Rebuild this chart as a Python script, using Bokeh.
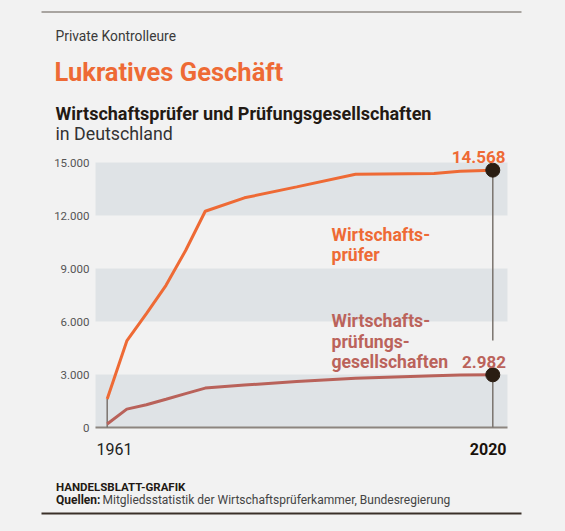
from bokeh.plotting import figure
from bokeh.models import Range1d, Label, BoxAnnotation
from bokeh.embed import file_html
from bokeh.resources import INLINE

# ---------------- data ----------------
years = [1961, 1964, 1967, 1970, 1973, 1976, 1982, 1990, 1999, 2011, 2015, 2020]
wirtschaftspruefer = [1610, 4900, 6450, 8050, 10020, 12240, 13000, 13620, 14340, 14380, 14500, 14568]
gesellschaften = [200, 1040, 1290, 1600, 1920, 2230, 2400, 2600, 2790, 2930, 2970, 2982]
y_ticks = [0, 3000, 6000, 9000, 12000, 15000]
y_tick_labels = ["0", "3.000", "6.000", "9.000", "12.000", "15.000"]
first_year_label = "1961"
last_year_label = "2020"
wp_value_label = "14.568"
gs_value_label = "2.982"

# ---------------- styling ----------------
BG = "#f2f2f2"
BAND = "#dfe3e6"
ORANGE = "#ee6a35"
BROWN = "#b9625a"
BROWN_TXT = "#bb635b"
DARK = "#2a1d12"
GRAY_LINE = "#7a736d"
FONT = "Roboto"

W, H = 565, 531
# plot area in page pixels
PL, PR, PT, PB = 95, 507, 162, 427
X0, X1 = 1959.21, 2022.25  # data x at PL, PR
Y0, Y1 = 0, 15000          # data y at PB, PT


def dx(px):
    return X0 + (px - PL) * (X1 - X0) / (PR - PL)


def dy(py):
    return Y0 + (PB - py) * (Y1 - Y0) / (PB - PT)


p = figure(width=W, height=H, x_range=Range1d(dx(0), dx(W)), y_range=Range1d(dy(H), dy(0)),
           toolbar_location=None, output_backend="svg",
           min_border=0, min_border_left=0, min_border_right=0,
           min_border_top=0, min_border_bottom=0,
           background_fill_color=BG, border_fill_color=BG, outline_line_color=None)
p.axis.visible = False
p.grid.visible = False

# bands between alternate ticks
for i in range(0, len(y_ticks) - 1, 2):
    p.add_layout(BoxAnnotation(left=X0, right=X1, bottom=y_ticks[i], top=y_ticks[i + 1],
                               fill_color=BAND, fill_alpha=1.0, line_color=None, level="underlay"))

# y tick labels
p.text(x=[dx(89)] * len(y_ticks), y=y_ticks, text=y_tick_labels,
       text_font={"value": FONT}, text_font_size="11.5px", text_color="#555555",
       text_align="right", text_baseline="middle")

# baseline
p.segment(x0=[X0], y0=[0], x1=[X1], y1=[0], line_color="#8c857f", line_width=2)

# drop lines
p.segment(x0=[years[0]], y0=[0], x1=[years[0]], y1=[wirtschaftspruefer[0]],
          line_color=GRAY_LINE, line_width=1.5)
p.segment(x0=[years[-1]], y0=[0], x1=[years[-1]], y1=[gesellschaften[-1]],
          line_color=GRAY_LINE, line_width=1.5)
p.segment(x0=[years[-1]], y0=[dy(340)], x1=[years[-1]], y1=[wirtschaftspruefer[-1]],
          line_color=GRAY_LINE, line_width=1.5)

p.line(years, gesellschaften, line_color=BROWN, line_width=3)
p.line(years, wirtschaftspruefer, line_color=ORANGE, line_width=3)
p.scatter([years[-1], years[-1]], [wirtschaftspruefer[-1], gesellschaften[-1]],
          size=14, fill_color=DARK, line_color=DARK)


def lab(text, px, py, size, color, style="normal", align="left", font=FONT):
    p.add_layout(Label(x=dx(px), y=dy(py), text=text, text_font=font,
                       text_font_size=f"{size}px", text_color=color,
                       text_font_style=style, text_align=align,
                       text_baseline="alphabetic"))


def hline(px0, px1, py, color, width):
    p.segment(x0=[dx(px0)], y0=[dy(py)], x1=[dx(px1)], y1=[dy(py)],
              line_color=color, line_width=width)


# header
hline(41, 521, 11.5, "#a9a5a1", 2)
lab("Private Kontrolleure", 55, 35.5, 13.8, "#3a3a3a")
lab("Lukratives Geschäft", 54, 71.5, 25.5, ORANGE, "bold")
lab("Wirtschaftsprüfer und Prüfungsgesellschaften", 55, 113, 18, "#231a14", "bold")
lab("in Deutschland", 55, 133.3, 17.8, "#333333")

# annotations
lab(wp_value_label, 505, 156, 17, ORANGE, "bold", "right")
lab("Wirtschafts-", 331, 234, 17.6, ORANGE, "bold")
lab("prüfer", 331, 254, 17.6, ORANGE, "bold")
lab("Wirtschafts-", 331, 320.7, 17.6, BROWN_TXT, "bold")
lab("prüfungs-", 331, 341.2, 17.6, BROWN_TXT, "bold")
lab("gesellschaften", 331, 361.7, 17.6, BROWN_TXT, "bold")
lab(gs_value_label, 505.5, 361.7, 17, BROWN_TXT, "bold", "right")

# x labels
lab(first_year_label, 96, 448.3, 16, "#222222")
lab(last_year_label, 506, 448.3, 16, "#1a120c", "bold", "right")

# footer
lab("HANDELSBLATT-GRAFIK", 55.5, 486, 11.5, "#231a14", "bold")
lab("Quellen:", 55.5, 499.3, 12, "#231a14", "bold")
lab("Mitgliedsstatistik der Wirtschaftsprüferkammer, Bundesregierung", 102, 499.3, 12, "#444444")
hline(41, 521, 513, "#3a3029", 2)

html = file_html(p, INLINE)
html = html.replace("</head>", "<style>html,body{background:#f2f2f2;}</style></head>", 1)
open("out.html", "w").write(html)
